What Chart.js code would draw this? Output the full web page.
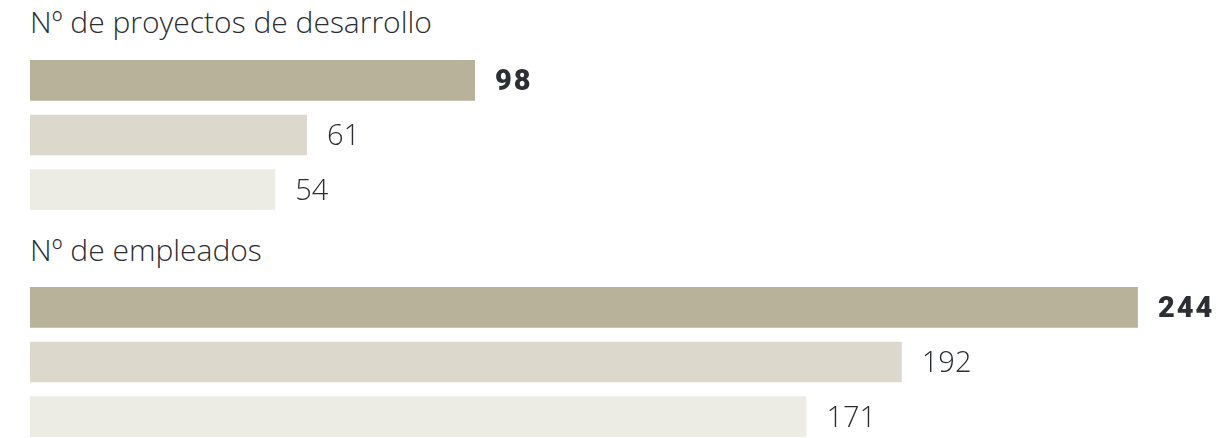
<!DOCTYPE html>
<html lang="es">
<head>
<meta charset="utf-8">
<script src="https://cdn.jsdelivr.net/npm/chart.js@4"></script>
<style>
  html, body { margin: 0; padding: 0; background: #fff; overflow: hidden; }
  body { width: 1226px; height: 438px; position: relative; font-family: "Open Sans", sans-serif; }
  .title { position: absolute; left: 30px; margin: 0; font-weight: 300; font-size: 30px; line-height: 1; color: #2b2f33; white-space: nowrap; }
  .block { position: absolute; left: 0; width: 1226px; height: 164px; }
</style>
</head>
<body>
<p class="title" id="titleProyectos" style="top: 7px;"></p>
<div class="block" style="top: 53px;"><canvas id="proyectosChart"></canvas></div>
<p class="title" id="titleEmpleados" style="top: 235px;"></p>
<div class="block" style="top: 280px;"><canvas id="empleadosChart"></canvas></div>

<script>
// Data
const groupTitles = ['Nº de proyectos de desarrollo', 'Nº de empleados'];
const rowLabels = ['A', 'B', 'C'];
const proyectos = [98, 61, 54];
const empleados = [244, 192, 171];
const barColors = ['#b8b29a', '#dcd8cc', '#ecebe4'];

// Shared x range so both blocks use the same scale
const X_MAX = 263.4;

// Writes the value at the end of each bar; the first row goes in heavy type
const valueLabels = {
    id: 'valueLabels',
    afterDatasetsDraw(chart) {
        const ctx = chart.ctx;
        const meta = chart.getDatasetMeta(0);
        const values = chart.data.datasets[0].data;
        ctx.save();
        ctx.textBaseline = 'middle';
        ctx.textAlign = 'left';
        ctx.fillStyle = '#2b2f33';
        meta.data.forEach((bar, i) => {
            if (i === 0) {
                ctx.font = '900 29px Roboto, "Open Sans", sans-serif';
                ctx.letterSpacing = '2px';
            } else {
                ctx.font = '300 29px "Open Sans", sans-serif';
                ctx.letterSpacing = '0px';
            }
            ctx.fillText(String(values[i]), bar.x + 20, bar.y + 2);
        });
        ctx.restore();
    }
};

function initBarBlock(canvasId, values) {
    const ctx = document.getElementById(canvasId).getContext('2d');

    return new Chart(ctx, {
        type: 'bar',
        data: {
            labels: rowLabels,
            datasets: [{
                data: values,
                backgroundColor: barColors,
                borderWidth: 0,
                categoryPercentage: 1,
                barPercentage: 40.5 / 54.5
            }]
        },
        options: {
            indexAxis: 'y',
            responsive: true,
            maintainAspectRatio: false,
            animation: false,
            layout: {
                padding: { left: 30, right: 0, top: 0, bottom: 0 }
            },
            plugins: {
                legend: { display: false },
                tooltip: { enabled: false }
            },
            scales: {
                x: { display: false, min: 0, max: X_MAX },
                y: { display: false }
            }
        },
        plugins: [valueLabels]
    });
}

document.getElementById('titleProyectos').textContent = groupTitles[0];
document.getElementById('titleEmpleados').textContent = groupTitles[1];

initBarBlock('proyectosChart', proyectos);
initBarBlock('empleadosChart', empleados);
</script>
</body>
</html>
